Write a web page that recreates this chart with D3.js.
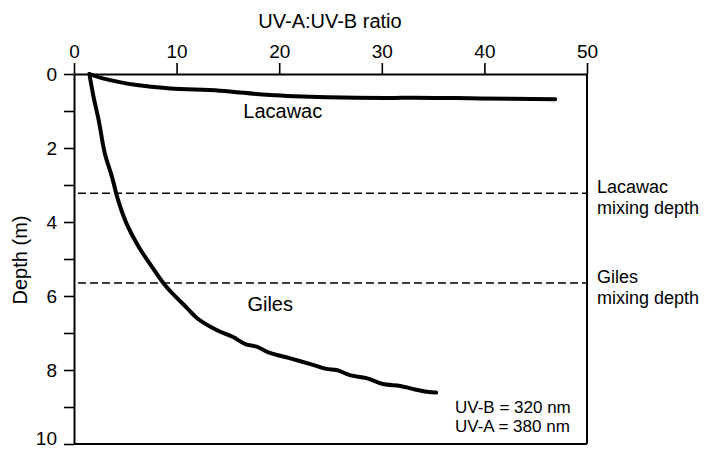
<!DOCTYPE html>
<html>
<head>
<meta charset="utf-8">
<script src="https://cdn.jsdelivr.net/npm/d3@7"></script>
<style>
  body { margin: 0; background: #fff; }
  svg { display: block; font-family: "Liberation Sans", Arial, sans-serif; }
</style>
</head>
<body>
<div id="chart"></div>
<script>
// values
var lacawacRatio = [1.5, 2.8, 6.1, 9.4, 14.2, 19.1, 24.7, 30.8, 33.0, 39.6, 46.9];
var lacawacDepth = [0.0, 0.12, 0.30, 0.39, 0.45, 0.57, 0.63, 0.65, 0.64, 0.66, 0.68];

var gilesRatio = [1.5, 1.9, 2.4, 3.0, 3.7, 4.3, 5.1, 6.3, 7.6, 9.0, 11.0, 12.0, 13.9, 15.5, 16.7, 17.8,
                  19.1, 21.0, 23.3, 24.6, 25.6, 26.9, 28.5, 30.1, 31.8, 33.0, 34.4, 35.3];
var gilesDepth = [0.0, 0.61, 1.24, 2.14, 2.78, 3.41, 4.03, 4.67, 5.21, 5.75, 6.32, 6.60, 6.92, 7.11, 7.30, 7.37,
                  7.54, 7.68, 7.86, 7.97, 8.00, 8.14, 8.22, 8.38, 8.43, 8.51, 8.59, 8.61];

var mixingNames = ["Lacawac", "Giles"];
var mixingDepths = [3.22, 5.65];

var xTicks = [0, 10, 20, 30, 40, 50];
var yTicks = [0, 1, 2, 3, 4, 5, 6, 7, 8, 9, 10];
var yLabels = [0, 2, 4, 6, 8, 10];

var width = 714, height = 451;
var margin = {top: 74, left: 74};
var plotW = 513, plotH = 370;

var svg = d3.select("#chart").append("svg")
    .attr("width", width)
    .attr("height", height);

var g = svg.append("g")
    .attr("transform", `translate(${margin.left}, ${margin.top})`);

var x = d3.scaleLinear().domain([0, 50]).range([0, plotW]);
var y = d3.scaleLinear().domain([0, 10]).range([0, plotH]);

// frame: right and bottom
g.append("line")
    .attr("x1", plotW).attr("x2", plotW)
    .attr("y1", 0).attr("y2", plotH)
    .attr("stroke", "#000").attr("stroke-width", 2);
g.append("line")
    .attr("x1", 0).attr("x2", plotW)
    .attr("y1", plotH).attr("y2", plotH)
    .attr("stroke", "#000").attr("stroke-width", 2);

// top axis
var xAxis = g.append("g")
    .call(d3.axisTop(x).tickValues(xTicks).tickSize(11).tickPadding(5).tickSizeOuter(0))
    .style("font-family", "Liberation Sans, Arial, sans-serif")
    .style("font-size", "19px");

// left axis
var yAxis = g.append("g")
    .call(d3.axisLeft(y).tickValues(yTicks).tickSize(10).tickPadding(7).tickSizeOuter(0)
        .tickFormat(d => yLabels.indexOf(d) >= 0 ? d : ""))
    .style("font-family", "Liberation Sans, Arial, sans-serif")
    .style("font-size", "19px");

[xAxis, yAxis].forEach(a => {
    a.select(".domain").attr("stroke", "#000").attr("stroke-width", 2);
    a.selectAll(".tick line").attr("stroke", "#000").attr("stroke-width", 1.6);
    a.selectAll(".tick text").attr("fill", "#000");
});
// keep the bottom label inside the picture
yAxis.selectAll(".tick text").filter(d => d === 10).attr("dy", "0.05em");

// axis titles
svg.append("text")
    .attr("x", 330).attr("y", 28)
    .attr("text-anchor", "middle")
    .style("font-size", "20px")
    .text("UV-A:UV-B ratio");

svg.append("text")
    .attr("transform", "translate(27, 260) rotate(-90)")
    .attr("text-anchor", "middle")
    .style("font-size", "20px")
    .text("Depth (m)");

// mixing depth lines
g.selectAll(".mix")
    .data(mixingDepths)
    .join("line")
    .attr("class", "mix")
    .attr("x1", 4).attr("x2", plotW)
    .attr("y1", d => y(d)).attr("y2", d => y(d))
    .attr("stroke", "#000")
    .attr("stroke-width", 1.5)
    .attr("stroke-dasharray", "8,4");

mixingNames.forEach((name, i) => {
    g.append("text")
        .attr("x", plotW + 10)
        .attr("y", y(mixingDepths[i]))
        .style("font-size", "18px")
        .text(name);
    g.append("text")
        .attr("x", plotW + 10)
        .attr("y", y(mixingDepths[i]) + 21)
        .style("font-size", "18px")
        .text("mixing depth");
});

// profiles
var line = d3.line()
    .x(d => x(d[0]))
    .y(d => y(d[1]))
    .curve(d3.curveCatmullRom);

g.append("path")
    .datum(d3.zip(lacawacRatio, lacawacDepth))
    .attr("d", line)
    .attr("fill", "none")
    .attr("stroke", "#000")
    .attr("stroke-width", 4)
    .attr("stroke-linecap", "round");

g.append("path")
    .datum(d3.zip(gilesRatio, gilesDepth))
    .attr("d", line)
    .attr("fill", "none")
    .attr("stroke", "#000")
    .attr("stroke-width", 4)
    .attr("stroke-linecap", "round");

// curve labels
g.append("text")
    .attr("x", x(16.5)).attr("y", y(1.19))
    .style("font-size", "20px")
    .text("Lacawac");

g.append("text")
    .attr("x", x(16.9)).attr("y", y(6.41))
    .style("font-size", "20px")
    .text("Giles");

// wavelength note
var note = svg.append("text")
    .attr("x", 455).attr("y", 413)
    .style("font-size", "17px");
note.append("tspan").attr("x", 455).text("UV-B = 320 nm");
note.append("tspan").attr("x", 455).attr("dy", 19).text("UV-A = 380 nm");
</script>
</body>
</html>
